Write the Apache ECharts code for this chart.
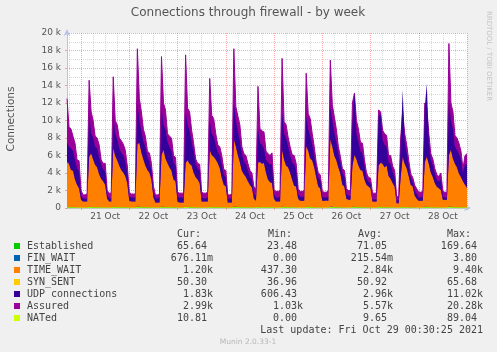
<!DOCTYPE html>
<html>
<head>
<meta charset="utf-8">
<script src="https://cdn.jsdelivr.net/npm/echarts@6.0.0/dist/echarts.min.js"></script>
<style>
html, body { margin: 0; padding: 0; background: #f0f0f0; }
#container { width: 497px; height: 352px; }
</style>
</head>
<body>
<div id="container"></div>
<script>
// hours counted from 21 Oct 00:00, one sample per hour
var hours = [];
for (var h = -7; h <= 192; h++) hours.push(h);

var dayLabels = ['21 Oct', '22 Oct', '23 Oct', '24 Oct', '25 Oct', '26 Oct', '27 Oct', '28 Oct'];
var yTickLabels = ['0', '2 k', '4 k', '6 k', '8 k', '10 k', '12 k', '14 k', '16 k', '18 k', '20 k'];

var established = [
  120,100,95,90,80,70,65,40,30,28,
  30,150,120,110,95,90,85,75,70,68,
  40,32,30,155,115,105,92,88,84,80,
  66,36,30,29,31,165,135,120,100,92,
  80,78,68,45,30,28,30,160,130,120,
  95,92,90,75,72,35,32,30,31,160,
  125,120,98,86,72,68,66,36,32,30,
  33,150,118,112,96,86,84,76,62,60,
  30,28,30,168,128,115,104,84,77,75,
  68,60,58,44,40,145,100,98,97,80,
  77,75,78,40,36,35,38,158,108,104,
  92,84,76,75,68,42,37,36,38,152,
  118,112,96,84,69,58,56,37,35,34,
  38,158,128,114,100,84,74,62,60,42,
  38,37,130,140,110,100,88,87,72,58,
  54,53,33,32,33,122,120,98,95,93,
  75,75,65,60,26,24,95,125,95,86,
  70,57,54,46,42,36,35,37,130,128,
  95,77,72,62,56,55,58,37,35,34,
  170,130,120,93,90,86,79,62,75,66
];
var finWait = [
  0.5,0.4,0.3,0.3,0.2,0.2,0.2,0,0,0,
  0,1.2,0.8,0.6,0.4,0.4,0.3,0.2,0.2,0.2,
  0,0,0,1.5,0.7,0.5,0.4,0.3,0.3,0.2,
  0.1,0,0,0,0,2.1,0.9,0.6,0.4,0.3,
  0.3,0.2,0.2,0,0,0,0,1.8,0.8,0.6,
  0.4,0.3,0.3,0.2,0.2,0,0,0,0,3.8,
  0.9,0.6,0.4,0.3,0.2,0.2,0.2,0,0,0,
  0,1.4,0.6,0.5,0.4,0.3,0.3,0.2,0.1,0.1,
  0,0,0,2.4,0.9,0.6,0.5,0.3,0.2,0.2,
  0.2,0.1,0.1,0,0,1.1,0.5,0.4,0.4,0.3,
  0.3,0.2,0.3,0,0,0,0,1.9,0.6,0.5,
  0.4,0.3,0.2,0.2,0.2,0,0,0,0,1.6,
  0.7,0.5,0.4,0.3,0.2,0.1,0.1,0,0,0,
  0,1.7,0.8,0.6,0.4,0.3,0.2,0.2,0.1,0,
  0,0,1.0,1.3,0.6,0.4,0.3,0.3,0.2,0.1,
  0.1,0.1,0,0,0,0.9,0.9,0.5,0.4,0.4,
  0.3,0.3,0.2,0.1,0,0,0.4,1.0,0.5,0.4,
  0.3,0.1,0.1,0.1,0,0,0,0,1.2,1.1,
  0.5,0.3,0.3,0.2,0.1,0.1,0.2,0,0,0,
  3.2,1.0,0.7,0.5,0.4,0.4,0.3,0.2,0.6,0.7
];
var timeWait = [
  5080,4900,4200,4110,3120,2530,2140,860,670,670,
  670,5650,6080,5390,4800,4510,3720,3230,2930,2530,
  960,670,670,6640,5790,5300,4710,4210,3920,3520,
  2730,760,670,670,670,7040,7270,6180,5400,4710,
  4220,3920,3130,1160,570,570,570,5840,6470,5480,
  5000,4510,4110,3130,2930,670,570,570,570,4940,
  5280,4880,4700,3910,3430,3130,2730,660,670,670,
  670,6450,5880,5690,5400,5010,4420,3320,2540,2340,
  570,570,570,7630,6870,5890,5100,4120,3720,3430,
  2930,2540,2240,960,760,4960,5100,4900,5000,3920,
  3120,2830,2720,960,660,660,660,6440,5390,4700,
  4510,3920,3120,2430,2330,960,760,760,760,6850,
  6380,5490,5300,4520,3430,2340,2140,760,760,770,
  760,7640,6870,5790,5300,4520,3830,2540,2340,960,
  860,860,4670,5860,5390,4700,4210,4110,3130,2540,
  2350,2150,670,670,670,4680,4980,4900,4500,4710,
  3520,3220,2740,2340,470,480,3400,5680,4900,4410,
  3530,2540,2350,1350,960,760,760,760,5070,5670,
  4900,3920,3430,2740,2340,2150,1940,860,870,870,
  5830,6470,5480,4910,4510,3810,3420,2940,2530,2230
];
var synSent = [
  55,55,55,52,50,50,48,42,40,38,
  40,62,60,58,56,55,52,50,50,48,
  44,40,40,62,58,57,55,54,52,51,
  48,42,40,40,41,65,62,60,57,55,
  53,52,50,44,40,39,40,64,61,60,
  56,55,54,52,50,42,40,40,41,64,
  60,59,56,54,51,50,49,42,40,40,
  41,62,59,58,56,54,53,51,48,47,
  40,39,40,66,62,59,57,53,52,51,
  49,47,46,43,42,61,56,56,55,52,
  51,50,50,43,41,41,42,64,58,57,
  55,53,51,50,49,43,41,41,42,63,
  60,58,56,53,50,47,46,41,41,40,
  42,64,61,59,57,54,51,48,47,43,
  42,42,60,62,58,56,54,53,50,47,
  46,45,40,40,40,60,60,56,55,55,
  51,50,48,47,38,37,52,62,56,54,
  50,47,46,44,43,41,41,41,61,62,
  56,52,51,48,46,46,47,41,41,40,
  66,61,59,55,55,53,52,48,50,50
];
var udp = [
  2250,1950,2450,2250,2250,1850,1950,460,360,360,
  360,5140,2240,2440,2040,2150,1950,1550,1350,1550,
  460,360,360,3640,2540,2340,1950,1950,1950,1650,
  1150,460,460,460,460,4740,2540,2440,2040,2150,
  1450,1250,1050,560,460,460,560,5440,2840,3340,
  2340,2350,2250,1950,1750,560,560,560,560,5840,
  4040,3740,2640,2450,1450,1250,1450,460,360,360,
  460,3340,2440,2340,1640,1250,1450,1550,1150,1050,
  460,460,460,4130,2940,2740,2340,1950,1450,1450,
  1250,950,850,560,560,3840,2240,2150,1650,1450,
  1950,2050,2150,560,460,460,560,4340,2940,3140,
  2350,1950,1950,2450,1850,560,460,460,460,3440,
  2440,2540,1740,1350,1050,1050,950,460,360,360,
  460,3640,2940,2640,2040,1550,1250,1350,1150,560,
  460,460,4640,7240,2940,2640,2150,1950,1550,750,
  550,550,260,260,260,5640,5640,2740,2550,2150,
  1650,1650,1250,1150,360,360,3450,7640,2440,1750,
  1150,750,550,560,560,360,360,460,6240,8340,
  2440,1450,1350,1050,750,750,1250,360,260,260,
  6430,3340,3340,1950,1950,2250,2050,950,2350,2650
];
var assured = [
  12500,9300,9000,8200,7400,5500,5400,2000,1500,1500,
  1600,14600,11000,10000,8200,8000,7200,5500,5100,5100,
  2000,1700,1700,15000,10000,9500,8000,7700,7300,6600,
  4800,1800,1600,1600,1600,18200,12500,11000,9000,8200,
  6500,6300,5100,2500,1500,1500,1600,17300,12000,11200,
  8500,8200,8000,6000,5800,1800,1700,1700,1700,17500,
  11400,11000,8900,7400,5600,5100,5000,1800,1700,1700,
  1800,14800,10600,10200,8500,7200,7000,6000,4400,4300,
  1500,1500,1600,18200,11600,10500,9500,7000,6200,6000,
  5100,4300,4000,2400,2200,13900,9100,8800,8700,6500,
  6200,6000,6300,2100,1900,1900,2000,17100,9900,9500,
  8100,7000,6100,6000,5100,2200,1900,1900,2000,15400,
  10800,10200,8500,7000,5200,4000,3800,1900,1800,1800,
  2000,16900,11800,10400,9000,7000,5900,4500,4300,2200,
  2000,2000,12000,13100,10000,9000,7500,7400,5500,4000,
  3500,3400,1700,1700,1700,11200,11000,8900,8500,8300,
  6000,6000,4800,4300,1300,1300,8000,11000,8500,7200,
  5500,3900,3500,2600,2200,1800,1800,1900,12000,11500,
  8500,6200,5600,4500,3800,3600,4000,1900,1800,1800,
  18800,12000,11000,8300,8000,7400,6500,4500,6000,6200
];
var nated = [
  14,11,10,10,9,7,7,3,2,2,
  2,28,18,14,11,10,9,7,6,6,
  3,2,2,30,16,13,11,10,9,8,
  6,3,2,2,2,36,20,16,12,11,
  9,8,6,3,2,2,2,34,19,16,
  12,11,10,8,7,2,2,2,2,89,
  20,16,12,10,8,7,6,2,2,2,
  2,29,16,14,11,9,9,8,5,5,
  2,2,2,38,19,15,13,9,8,8,
  6,5,5,3,3,27,12,12,12,9,
  8,8,8,3,2,2,2,33,14,13,
  11,9,8,8,6,3,2,2,2,31,
  15,14,11,9,6,5,4,2,2,2,
  2,34,18,14,12,9,7,5,5,3,
  2,2,22,26,14,12,10,10,7,5,
  4,4,2,2,2,20,19,12,11,11,
  8,8,6,5,1,0,11,21,12,9,
  7,5,4,3,3,2,2,2,23,22,
  12,8,7,6,4,4,5,2,2,2,
  40,18,15,11,10,9,8,5,9,11
];

// legend table
var legendNames = ['Established', 'FIN_WAIT', 'TIME_WAIT', 'SYN_SENT', 'UDP connections', 'Assured', 'NATed'];
var legendColors = ['#00cc00', '#0066b3', '#ff8000', '#ffcc00', '#330099', '#990099', '#ccff00'];
var curVals = ['65.64', '676.11m', '1.20k', '50.30', '1.83k', '2.99k', '10.81'];
var minVals = ['23.48', '0.00', '437.30', '36.96', '606.43', '1.03k', '0.00'];
var avgVals = ['71.05', '215.54m', '2.84k', '50.92', '2.96k', '5.57k', '9.65'];
var maxVals = ['169.64', '3.80', '9.40k', '65.68', '11.02k', '20.28k', '89.04'];
var lastUpdate = 'Last update: Fri Oct 29 00:30:25 2021';

var dom = document.getElementById('container');
var myChart = echarts.init(dom);

var MONO = '10px "DejaVu Sans Mono", monospace';
var SANS = '"DejaVu Sans", sans-serif';
var axisCol = '#b8c0ec';
var minorCol = 'rgba(120,120,120,0.28)';
var majorCol = 'rgba(240,50,50,0.42)';

function txt(x, y, text, font, fill, align, valign, rot) {
    return {
        type: 'text', x: x, y: y, rotation: rot || 0, silent: true,
        style: {
            text: text, font: font, fill: fill,
            align: align, verticalAlign: valign,
            textAlign: align, textVerticalAlign: valign
        }
    };
}
function pad(v) {
    // rrdtool prints a unit letter or a space after the number
    return /[0-9]$/.test(v) ? v + ' ' : v;
}

var graphics = [];
graphics.push(txt(248, 13, 'Connections through firewall - by week', '12px ' + SANS, '#555', 'center', 'middle'));
graphics.push(txt(11, 119, 'Connections', '10.5px ' + SANS, '#555', 'center', 'middle', Math.PI / 2));
graphics.push(txt(489, 56, 'RRDTOOL / TOBI OETIKER', '7px ' + SANS, '#c4c4c4', 'center', 'middle', -Math.PI / 2));
graphics.push(txt(177, 234, 'Cur:', MONO, '#444', 'left', 'middle'));
graphics.push(txt(268, 234, 'Min:', MONO, '#444', 'left', 'middle'));
graphics.push(txt(358, 234, 'Avg:', MONO, '#444', 'left', 'middle'));
graphics.push(txt(447, 234, 'Max:', MONO, '#444', 'left', 'middle'));
for (var i = 0; i < legendNames.length; i++) {
    var ry = 246 + i * 12;
    graphics.push({
        type: 'rect', silent: true,
        shape: { x: 14, y: ry - 3, width: 6, height: 6 },
        style: { fill: legendColors[i] }
    });
    graphics.push(txt(27, ry, legendNames[i], MONO, '#444', 'left', 'middle'));
    graphics.push(txt(213, ry, pad(curVals[i]), MONO, '#444', 'right', 'middle'));
    graphics.push(txt(303, ry, pad(minVals[i]), MONO, '#444', 'right', 'middle'));
    graphics.push(txt(393, ry, pad(avgVals[i]), MONO, '#444', 'right', 'middle'));
    graphics.push(txt(483, ry, pad(maxVals[i]), MONO, '#444', 'right', 'middle'));
}
graphics.push(txt(483, 330, lastUpdate, MONO, '#444', 'right', 'middle'));
graphics.push(txt(248, 342, 'Munin 2.0.33-1', '7.5px ' + SANS, '#b8b8b8', 'center', 'middle'));

function stackArea(name, data, color) {
    return {
        name: name, type: 'line', stack: 'conn', data: data,
        symbol: 'none', silent: true, z: 3,
        lineStyle: { width: 0 },
        itemStyle: { color: color },
        areaStyle: { color: color, opacity: 1 }
    };
}

option = {
    backgroundColor: '#f0f0f0',
    animation: false,
    graphic: graphics,
    grid: {
        left: 67, top: 33, width: 400, height: 175,
        show: true, backgroundColor: '#ffffff', borderWidth: 0,
        containLabel: false, outerBoundsMode: 'none'
    },
    xAxis: [{
        type: 'category', data: hours, boundaryGap: false,
        axisLine: { show: true, lineStyle: { color: axisCol, width: 1 },
            symbol: ['none', 'arrow'], symbolSize: [5, 7], symbolOffset: [0, 4] },
        axisTick: { show: true, length: 2, inside: false,
            interval: function (idx) { return hours[idx] % 24 === 0; },
            lineStyle: { color: majorCol } },
        axisLabel: {
            interval: function (idx) { return hours[idx] % 24 === 12; },
            formatter: function (v, idx) { return dayLabels[(hours[idx] - 12) / 24]; },
            color: '#555', fontSize: 9, fontFamily: SANS, margin: 4
        },
        splitLine: { show: true,
            interval: function (idx) { return hours[idx] % 24 === 0; },
            lineStyle: { color: majorCol, type: [1, 1], width: 1 } }
    }, {
        type: 'category', data: hours, boundaryGap: false, position: 'bottom',
        axisLine: { show: false }, axisTick: { show: false }, axisLabel: { show: false },
        splitLine: { show: true,
            interval: function (idx) { return hours[idx] % 6 === 0 && hours[idx] % 24 !== 0; },
            lineStyle: { color: minorCol, type: [1, 1], width: 1 } }
    }],
    yAxis: {
        type: 'value', min: 0, max: 20000, interval: 2000,
        axisLine: { show: true, lineStyle: { color: axisCol, width: 1 },
            symbol: ['none', 'arrow'], symbolSize: [5, 7], symbolOffset: [0, 4] },
        axisTick: { show: true, length: 2, lineStyle: { color: majorCol } },
        axisLabel: {
            formatter: function (v) { return yTickLabels[Math.round(v / 2000)]; },
            color: '#555', fontSize: 9, fontFamily: SANS, margin: 6
        },
        splitLine: { show: true, lineStyle: { color: majorCol, type: [1, 1], width: 1 } },
        minorTick: { show: false, splitNumber: 2 },
        minorSplitLine: { show: true, lineStyle: { color: minorCol, type: [1, 1], width: 1 } }
    },
    series: [
        {
            name: 'Assured', type: 'line', data: assured, symbol: 'none', silent: true, z: 2,
            lineStyle: { color: '#990099', width: 1 },
            areaStyle: { color: '#990099', opacity: 1 }
        },
        stackArea('Established', established, '#00cc00'),
        stackArea('FIN_WAIT', finWait, '#0066b3'),
        stackArea('TIME_WAIT', timeWait, '#ff8000'),
        stackArea('SYN_SENT', synSent, '#ffcc00'),
        stackArea('UDP connections', udp, '#330099'),
        {
            name: 'NATed', type: 'line', data: nated, symbol: 'none', silent: true, z: 4,
            lineStyle: { color: '#ccff00', width: 1 }
        }
    ]
};

if (option && typeof option === 'object') {
    myChart.setOption(option);
}
</script>
</body>
</html>
